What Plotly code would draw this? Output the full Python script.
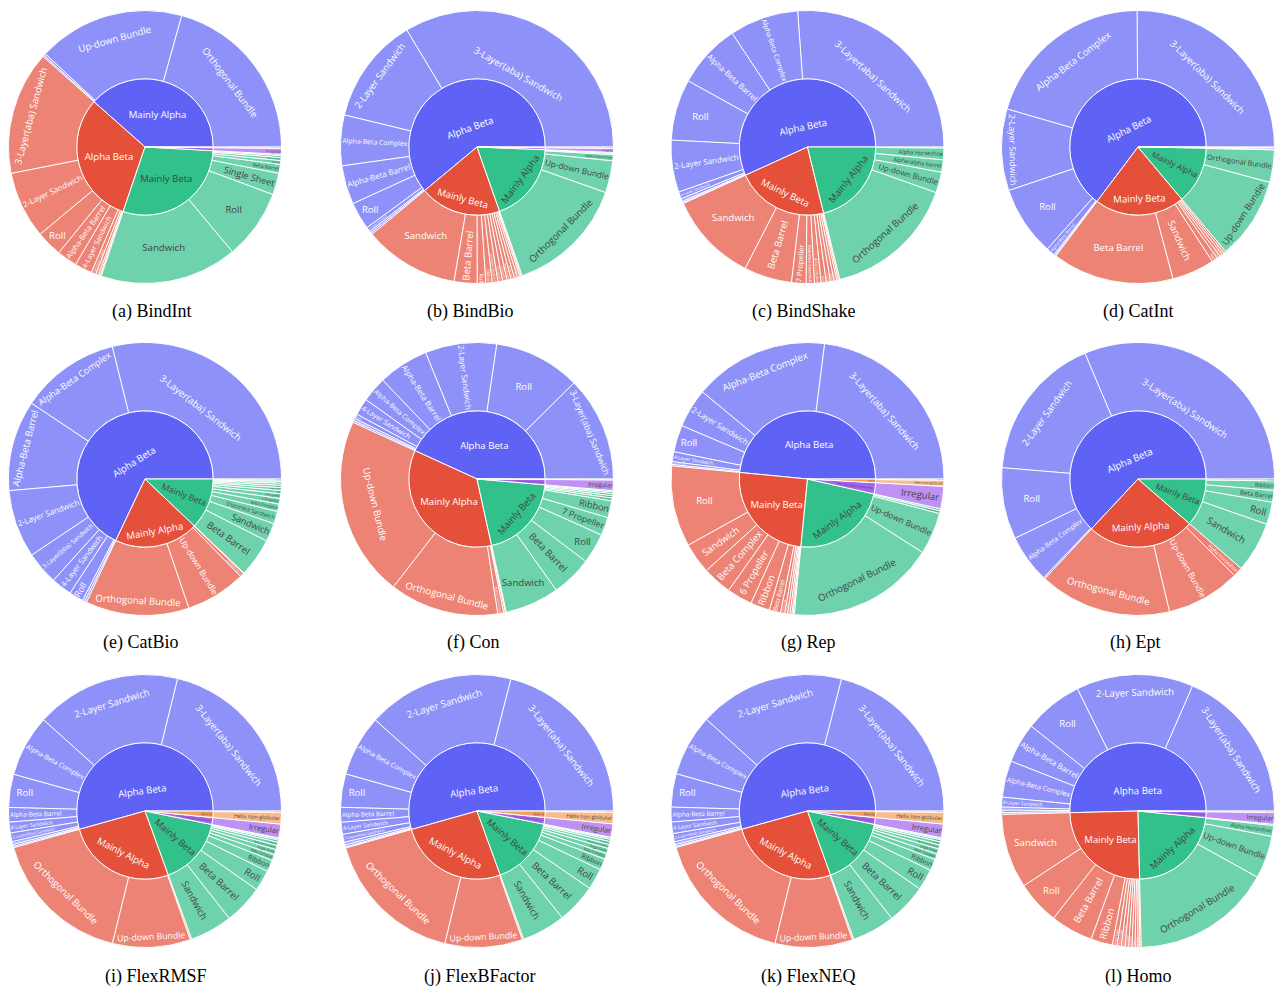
import plotly.graph_objects as go

# CATH class names
MA = "Mainly Alpha"
MB = "Mainly Beta"
AB = "Alpha Beta"
FS = "Few Secondary Structures"
SP = "Special"

# ---------------- (a) BindInt ----------------
bindint_classes = [MA, MA, MA, MA,
                   AB, AB, AB, AB, AB, AB, AB, AB, AB,
                   MB, MB, MB, MB, MB, MB, MB, MB,
                   FS, SP]
bindint_archs = ["Orthogonal Bundle", "Up-down Bundle", "Alpha Horseshoe", "Alpha/alpha barrel",
                 "3-Layer(aba) Sandwich", "2-Layer Sandwich", "Roll", "Alpha-Beta Barrel", "4-Layer Sandwich",
                 "Alpha-Beta Complex", "Alpha-Beta Horseshoe", "Box", "3-Layer(bba) Sandwich",
                 "Sandwich", "Roll", "Single Sheet", "Beta Barrel", "Ribbon", "Beta Complex",
                 "Distorted Sandwich", "6 Propeller",
                 "Irregular", "Helix non-globular"]
bindint_shares = [74.2, 62.3, 0.9, 0.6,
                  52.6, 28.5, 11.0, 8.6, 7.4, 2.0, 1.2, 0.7, 0.5,
                  58.4, 29.7, 9.2, 3.8, 1.6, 1.3, 0.8, 0.5,
                  2.5, 0.6]

# ---------------- (b) BindBio ----------------
bindbio_classes = [AB, AB, AB, AB, AB, AB, AB, AB,
                   MB, MB, MB, MB, MB, MB, MB, MB, MB, MB, MB, MB, MB,
                   MA, MA, MA, MA, MA,
                   FS, SP]
bindbio_archs = ["3-Layer(aba) Sandwich", "2-Layer Sandwich", "Alpha-Beta Complex", "Alpha-Beta Barrel", "Roll",
                 "4-Layer Sandwich", "Alpha-Beta Horseshoe", "Box",
                 "Sandwich", "Beta Barrel", "Roll", "Ribbon", "Distorted Sandwich", "6 Propeller", "7 Propeller",
                 "Beta Complex", "Single Sheet", "Trefoil", "Orthogonal Prism", "3 Solenoid", "Aligned Prism",
                 "Orthogonal Bundle", "Up-down Bundle", "Alpha Horseshoe", "Alpha Solenoid", "Alpha/alpha barrel",
                 "Irregular", "Helix non-globular"]
bindbio_shares = [120.6, 45.3, 21.5, 16.5, 11.7, 2.0, 0.8, 0.7,
                  40.4, 9.8, 3.6, 2.7, 2.4, 2.0, 1.9, 1.7, 1.5, 1.3, 1.0, 0.6, 0.5,
                  51.0, 13.6, 2.6, 0.5, 0.4,
                  1.7, 0.6]

# ---------------- (c) BindShake ----------------
bindshake_classes = [AB, AB, AB, AB, AB, AB, AB, AB, AB,
                     MB, MB, MB, MB, MB, MB, MB, MB, MB, MB, MB,
                     MA, MA, MA, MA, MA]
bindshake_archs = ["3-Layer(aba) Sandwich", "Alpha-Beta Complex", "Alpha-Beta Barrel", "Roll", "2-Layer Sandwich",
                   "4-Layer Sandwich", "Alpha-Beta Horseshoe", "Box", "3-Layer(bba) Sandwich",
                   "Sandwich", "Beta Barrel", "7 Propeller", "Distorted Sandwich", "Beta Complex", "Roll",
                   "Trefoil", "Ribbon", "Single Sheet", "6 Propeller", "Orthogonal Prism",
                   "Orthogonal Bundle", "Up-down Bundle", "Alpha/alpha barrel", "Alpha Horseshoe", "Alpha Solenoid"]
bindshake_shares = [94.2, 29.4, 27.5, 26.1, 22.2, 3.0, 1.2, 0.6, 0.4,
                    38.4, 20.4, 6.2, 3.5, 2.8, 2.2, 1.8, 1.5, 1.2, 0.7, 0.6,
                    56.8, 8.8, 5.3, 5.0, 0.4]

# ---------------- (d) CatInt ----------------
catint_classes = [AB, AB, AB, AB, AB, AB, AB,
                  MB, MB, MB, MB, MB, MB, MB,
                  MA, MA, MA,
                  FS, SP]
catint_archs = ["3-Layer(aba) Sandwich", "Alpha-Beta Complex", "2-Layer Sandwich", "Roll", "Alpha-Beta Barrel",
                "4-Layer Sandwich", "Box",
                "Beta Barrel", "Sandwich", "Roll", "Ribbon", "Single Sheet", "Beta Complex", "Distorted Sandwich",
                "Up-down Bundle", "Orthogonal Bundle", "Alpha Horseshoe",
                "Irregular", "Helix non-globular"]
catint_shares = [90.4, 73.4, 34.8, 29.8, 3.6, 0.6, 0.4,
                 51.9, 18.1, 2.5, 1.4, 1.2, 1.0, 0.9,
                 35.0, 13.8, 0.3,
                 0.6, 0.3]

# ---------------- (e) CatBio ----------------
catbio_classes = [AB, AB, AB, AB, AB, AB, AB, AB, AB,
                  MA, MA, MA, MA,
                  MB, MB, MB, MB, MB, MB, MB, MB, MB, MB, MB, MB, MB]
catbio_archs = ["3-Layer(aba) Sandwich", "Alpha-Beta Complex", "Alpha-Beta Barrel", "2-Layer Sandwich",
                "3-Layer(bba) Sandwich", "4-Layer Sandwich", "Roll", "Alpha-Beta Horseshoe", "Box",
                "Orthogonal Bundle", "Up-down Bundle", "Alpha/alpha barrel", "Alpha Horseshoe",
                "Beta Barrel", "Sandwich", "Distorted Sandwich", "Beta Complex", "6 Propeller", "7 Propeller",
                "Roll", "Single Sheet", "Ribbon", "Trefoil", "3 Solenoid", "Orthogonal Prism", "Aligned Prism"]
catbio_shares = [103.9, 42.4, 38.6, 29.0, 14.0, 8.8, 6.1, 1.0, 0.8,
                 44.2, 25.7, 1.7, 0.3,
                 16.5, 7.9, 5.3, 3.2, 2.4, 2.0, 1.4, 1.2, 1.0, 0.9, 0.7, 0.5, 0.5]

# ---------------- (f) Con ----------------
con_classes = [AB, AB, AB, AB, AB, AB, AB, AB, AB,
               MA, MA, MA, MA, MA,
               MB, MB, MB, MB, MB, MB, MB, MB, MB, MB,
               FS, SP]
con_archs = ["3-Layer(aba) Sandwich", "Roll", "2-Layer Sandwich", "Alpha-Beta Barrel", "Alpha-Beta Complex",
             "4-Layer Sandwich", "Box", "Alpha-Beta Horseshoe", "3-Layer(bba) Sandwich",
             "Up-down Bundle", "Orthogonal Bundle", "Alpha Horseshoe", "Alpha Solenoid", "Alpha/alpha barrel",
             "Sandwich", "Beta Barrel", "Roll", "7 Propeller", "Ribbon", "Beta Complex", "Single Sheet",
             "Distorted Sandwich", "6 Propeller", "Trefoil",
             "Irregular", "Helix non-globular"]
con_shares = [44.7, 36.9, 30.4, 21.5, 10.8, 7.2, 2.0, 1.0, 0.8,
              76.7, 46.5, 2.5, 0.7, 0.4,
              23.1, 17.3, 12.9, 7.8, 7.2, 1.2, 1.0, 0.9, 0.7, 0.5,
              4.5, 0.4]

# ---------------- (g) Rep ----------------
rep_classes = [AB, AB, AB, AB, AB, AB, AB,
               MB, MB, MB, MB, MB, MB, MB, MB, MB, MB, MB, MB,
               MA, MA, MA, MA,
               FS, SP, SP]
rep_archs = ["3-Layer(aba) Sandwich", "Alpha-Beta Complex", "2-Layer Sandwich", "Roll", "4-Layer Sandwich",
             "Alpha-Beta Barrel", "Box",
             "Roll", "Sandwich", "Beta Complex", "6 Propeller", "Ribbon", "Beta Barrel", "3 Solenoid",
             "Single Sheet", "7 Propeller", "Trefoil", "Distorted Sandwich", "Orthogonal Prism",
             "Orthogonal Bundle", "Up-down Bundle", "Alpha Horseshoe", "Alpha/alpha barrel",
             "Irregular", "Helix non-globular", "Other non-globular"]
rep_shares = [82.5, 57.3, 16.6, 11.4, 4.2, 1.2, 0.6,
              34.4, 13.1, 12.5, 10.8, 8.2, 4.8, 1.8, 1.2, 1.0, 0.8, 0.6, 0.4,
              62.8, 17.8, 1.2, 0.8,
              9.5, 2.6, 0.5]

# ---------------- (h) Ept ----------------
ept_classes = [AB, AB, AB, AB, AB,
               MA, MA, MA,
               MB, MB, MB, MB, MB]
ept_archs = ["3-Layer(aba) Sandwich", "2-Layer Sandwich", "Roll", "Alpha-Beta Complex", "Alpha-Beta Barrel",
             "Orthogonal Bundle", "Up-down Bundle", "Alpha Horseshoe",
             "Sandwich", "Roll", "Beta Barrel", "Ribbon", "Single Sheet"]
ept_shares = [112.6, 62.2, 30.4, 20.5, 0.7,
              56.3, 31.5, 4.1,
              21.5, 9.5, 5.0, 4.0, 0.8]

# ---------------- (i) FlexRMSF ----------------
flexrmsf_classes = [AB, AB, AB, AB, AB, AB, AB, AB, AB, AB,
                    MA, MA, MA,
                    MB, MB, MB, MB, MB, MB, MB, MB, MB, MB, MB,
                    FS, SP, SP]
flexrmsf_archs = ["3-Layer(aba) Sandwich", "2-Layer Sandwich", "Alpha-Beta Complex", "Roll", "Alpha-Beta Barrel",
                  "4-Layer Sandwich", "3-Layer(bba) Sandwich", "Alpha-Beta Horseshoe", "Box", "Super Roll",
                  "Orthogonal Bundle", "Up-down Bundle", "Alpha Horseshoe",
                  "Sandwich", "Beta Barrel", "Roll", "Ribbon", "Beta Complex", "Single Sheet",
                  "Distorted Sandwich", "7 Propeller", "6 Propeller", "Trefoil", "Orthogonal Prism",
                  "Irregular", "Helix non-globular", "Other non-globular"]
flexrmsf_shares = [76.1, 61.8, 26.3, 14.1, 6.2, 4.6, 3.7, 1.2, 0.8, 0.6,
                   60.5, 33.2, 0.6,
                   18.1, 16.7, 8.9, 5.0, 2.6, 2.2, 1.8, 1.4, 0.9, 0.6, 0.3,
                   5.9, 5.0, 0.5]

# ---------------- (j) FlexBFactor ----------------
flexbfactor_classes = flexrmsf_classes
flexbfactor_archs = flexrmsf_archs
flexbfactor_shares = [75.5, 62.5, 26.0, 14.2, 6.3, 5.1, 3.4, 1.2, 0.8, 0.5,
                      60.5, 33.0, 0.6,
                      18.6, 16.9, 9.0, 4.8, 2.5, 2.2, 1.7, 1.3, 0.9, 0.6, 0.3,
                      5.7, 4.9, 0.5]

# ---------------- (k) FlexNEQ ----------------
flexneq_classes = flexrmsf_classes
flexneq_archs = flexrmsf_archs
flexneq_shares = [75.5, 62.2, 26.3, 14.2, 6.3, 4.9, 3.5, 1.2, 0.8, 0.5,
                  60.6, 33.0, 0.6,
                  18.3, 17.1, 9.0, 4.9, 2.5, 2.2, 1.7, 1.3, 0.9, 0.6, 0.3,
                  5.8, 5.0, 0.5]

# ---------------- (l) Homo ----------------
homo_classes = [AB, AB, AB, AB, AB, AB, AB, AB, AB,
                MB, MB, MB, MB, MB, MB, MB, MB, MB, MB, MB, MB, MB,
                MA, MA, MA, MA,
                FS, SP]
homo_archs = ["3-Layer(aba) Sandwich", "2-Layer Sandwich", "Roll", "Alpha-Beta Barrel", "Alpha-Beta Complex",
              "4-Layer Sandwich", "Alpha-Beta Horseshoe", "Box", "3-Layer(bba) Sandwich",
              "Sandwich", "Roll", "Beta Barrel", "Ribbon", "Single Sheet", "Beta Complex", "Distorted Sandwich",
              "7 Propeller", "6 Propeller", "Trefoil", "3 Solenoid", "Orthogonal Prism", "Aligned Prism",
              "Orthogonal Bundle", "Up-down Bundle", "Alpha Horseshoe", "Alpha/alpha barrel",
              "Irregular", "Helix non-globular"]
homo_shares = [66.3, 49.8, 25.1, 17.0, 15.5, 4.2, 1.3, 1.0, 0.8,
               31.7, 18.5, 18.1, 9.2, 2.0, 1.8, 1.6, 1.5, 1.4, 1.3, 1.2, 0.8, 0.6,
               59.5, 18.2, 4.6, 0.5,
               5.0, 0.6]

panel_titles = ["(a) BindInt", "(b) BindBio", "(c) BindShake", "(d) CatInt",
                "(e) CatBio", "(f) Con", "(g) Rep", "(h) Ept",
                "(i) FlexRMSF", "(j) FlexBFactor", "(k) FlexNEQ", "(l) Homo"]
panel_data = [
    (bindint_classes, bindint_archs, bindint_shares),
    (bindbio_classes, bindbio_archs, bindbio_shares),
    (bindshake_classes, bindshake_archs, bindshake_shares),
    (catint_classes, catint_archs, catint_shares),
    (catbio_classes, catbio_archs, catbio_shares),
    (con_classes, con_archs, con_shares),
    (rep_classes, rep_archs, rep_shares),
    (ept_classes, ept_archs, ept_shares),
    (flexrmsf_classes, flexrmsf_archs, flexrmsf_shares),
    (flexbfactor_classes, flexbfactor_archs, flexbfactor_shares),
    (flexneq_classes, flexneq_archs, flexneq_shares),
    (homo_classes, homo_archs, homo_shares),
]

# ---------------- layout (pixels) ----------------
W, H = 1275, 987
RADIUS = 136.5
col_cx = [145, 477, 807.5, 1138]
row_cy = [147, 479, 811]
caption_x = [151, 471, 803.5, 1138, 140.5, 473, 807.5, 1135, 155.5, 479, 808, 1138]
caption_y = [311, 642, 976]

# class colours, assigned by descending class size
PALETTE = ["#5F63F5", "#E4503A", "#32C18A", "#A463F0", "#F5A05C"]


def sunburst(classes, archs, shares, cx, cy):
    totals = {}
    for c, v in zip(classes, shares):
        totals[c] = totals.get(c, 0) + v
    order = sorted(totals, key=lambda c: -totals[c])
    cmap = {c: PALETTE[i] for i, c in enumerate(order)}
    ids = list(order) + [f"{c}/{a}" for c, a in zip(classes, archs)]
    labels = list(order) + list(archs)
    parents = [""] * len(order) + list(classes)
    values = [0] * len(order) + list(shares)
    colors = [cmap[c] for c in order] + [cmap[c] for c in classes]
    return go.Sunburst(
        ids=ids, labels=labels, parents=parents, values=values,
        branchvalues="remainder", sort=True,
        marker=dict(colors=colors, line=dict(color="white", width=1)),
        leaf=dict(opacity=0.7),
        textfont=dict(family="Open Sans", size=9.6),
        insidetextorientation="auto",
        domain=dict(x=[(cx - RADIUS) / W, min(1, (cx + RADIUS) / W)],
                    y=[1 - (cy + RADIUS) / H, 1 - (cy - RADIUS) / H]),
    )


fig = go.Figure()
annotations = []
for i, (cls, arch, share) in enumerate(panel_data):
    r, c = divmod(i, 4)
    fig.add_trace(sunburst(cls, arch, share, col_cx[c], row_cy[r]))
    annotations.append(dict(
        text=panel_titles[i], x=caption_x[i] / W, y=1 - caption_y[r] / H,
        xref="paper", yref="paper", xanchor="center", yanchor="middle",
        showarrow=False,
        font=dict(family="Liberation Serif, Times New Roman, serif", size=18, color="black"),
    ))

fig.update_layout(
    width=W, height=H,
    margin=dict(l=0, r=0, t=0, b=0),
    paper_bgcolor="white",
    showlegend=False,
    annotations=annotations,
)

fig.write_html("out.html")
